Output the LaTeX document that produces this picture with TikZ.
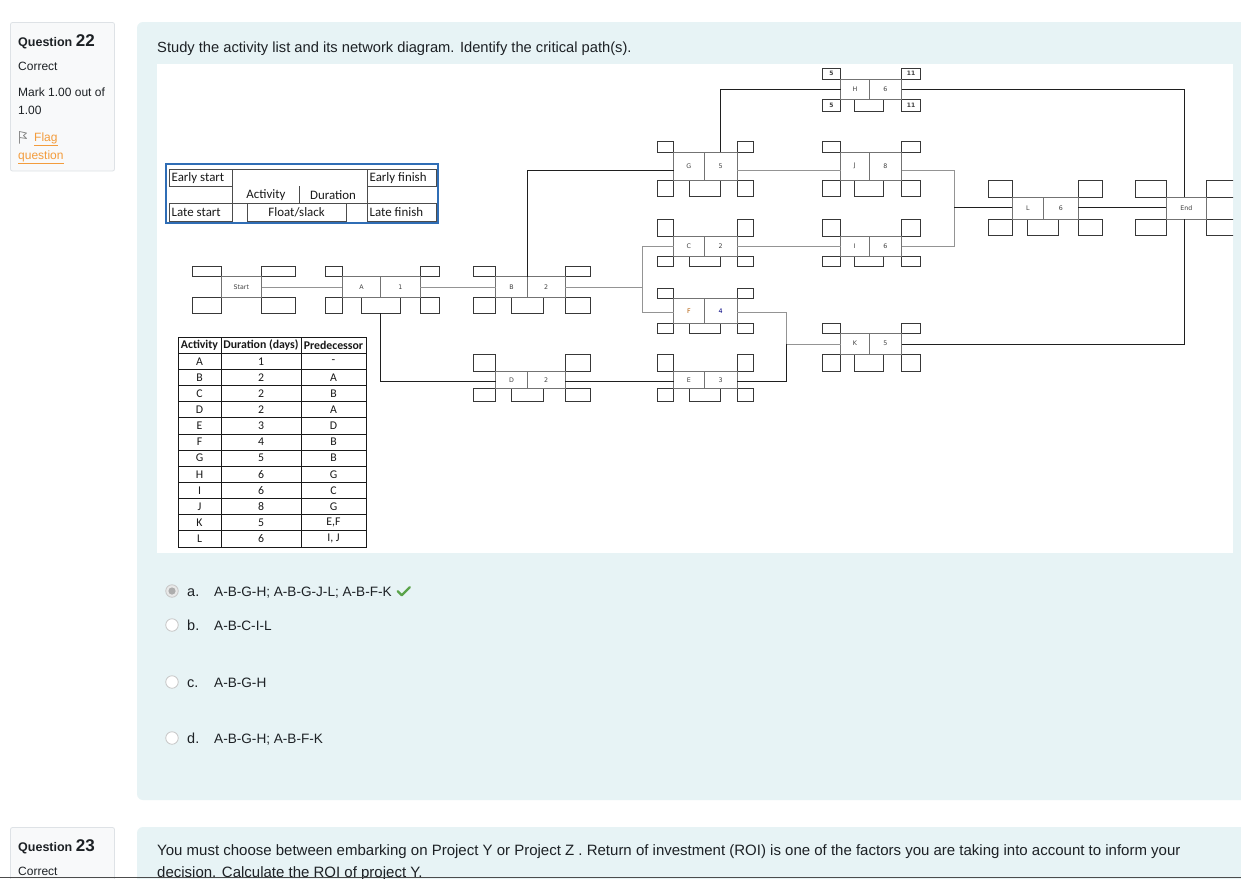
\documentclass[tikz,border=0pt]{standalone}
\usepackage{fontspec}
\setmainfont{Liberation Sans}
\newfontfamily\calibrifont{Carlito}
\newfontfamily\diagfont{DejaVu Sans}
\usetikzlibrary{fit}

\definecolor{panelblue}{HTML}{E7F3F5}
\definecolor{cardgray}{HTML}{F8F9FA}
\definecolor{cardline}{HTML}{DEE2E6}
\definecolor{bodytext}{HTML}{1D2125}
\definecolor{linkorange}{HTML}{F39C3C}
\definecolor{legendblue}{HTML}{2F6DB5}
\definecolor{okgreen}{HTML}{5AA34A}

\newcommand{\setfs}[1]{\fontsize{#1}{#1}\selectfont}

% split "x1/x2/.../x7" column specs and "y1/.../y4" row specs
\def\splitcol#1/#2/#3/#4/#5/#6/#7\relax{\def\cxa{#1}\def\cxb{#2}\def\cxc{#3}\def\cxd{#4}\def\cxe{#5}\def\cxf{#6}\def\cxg{#7}}
\def\splitrow#1/#2/#3/#4\relax{\def\cya{#1}\def\cyb{#2}\def\cyc{#3}\def\cyd{#4}}

% column x positions: box left, body left, divider, float box left, float box right, body right, box right
\def\colA{325.7/342.3/380.7/361.7/400/420/439.3}
\def\colB{473.3/495.7/527.3/511.7/543.3/565/590.7}
\def\colG{657/673.5/704.3/689.3/720/737/753.3}
\def\colH{822.5/840.5/869.3/854.5/883.3/901.5/920}
\def\colL{988.7/1012.3/1043.3/1027.3/1058.3/1078.3/1102.7}
% row y positions: box top, body top, body bottom, box bottom
\def\rowH{68.3/79/99/111.7}
\def\rowG{141.7/152/180/196.7}
\def\rowL{180/197.3/219.3/235}
\def\rowC{219.3/236/256.7/266.7}
\def\rowA{266.7/276.7/297.3/313.3}
\def\rowF{288.3/298.3/323.3/333.3}
\def\rowK{323.3/333.3/354/371.7}
\def\rowD{354.3/371.7/388.3/401.7}

% activity node: #1 name, #2 columns, #3 rows, #4 activity, #5 duration, #6 y of the in/out wires
\newcommand{\netnode}[6]{%
  \expandafter\splitcol#2\relax
  \expandafter\splitrow#3\relax
  \draw[cellbox] (\cxa,\cya) rectangle (\cxb,\cyb);
  \draw[cellbox] (\cxf,\cya) rectangle (\cxg,\cyb);
  \draw[cellbox] (\cxa,\cyc) rectangle (\cxb,\cyd);
  \draw[cellbox] (\cxf,\cyc) rectangle (\cxg,\cyd);
  \draw[cellbox] (\cxd,\cyc) rectangle (\cxe,\cyd);
  \node[fit={(\cxb,\cyb) (\cxc,\cyc)}, cellbody] (#1) {};
  \node[fit={(\cxc,\cyb) (\cxf,\cyc)}, cellbody] (#1-d) {};
  \node[nodetxt] (#1-t) at (#1.center) {#4};
  \node[nodetxt] (#1-v) at (#1-d.center) {#5};
  \coordinate (#1-in) at (\cxb,#6);
  \coordinate (#1-out) at (\cxf,#6);
  \coordinate (#1-n) at (\cxc,\cyb);
  \coordinate (#1-ne) at (\cxe,\cyb);
  \coordinate (#1-s) at (\cxc,\cyd);
}
% start / end node: #1 name, #2 "x1/x2/x3/x4", #3 rows, #4 text
\def\splitterm#1/#2/#3/#4\relax{\def\cxa{#1}\def\cxb{#2}\def\cxf{#3}\def\cxg{#4}}
\newcommand{\termnode}[4]{%
  \splitterm#2\relax
  \expandafter\splitrow#3\relax
  \draw[cellbox] (\cxa,\cya) rectangle (\cxb,\cyb);
  \draw[cellbox] (\cxf,\cya) rectangle (\cxg,\cyb);
  \draw[cellbox] (\cxa,\cyc) rectangle (\cxb,\cyd);
  \draw[cellbox] (\cxf,\cyc) rectangle (\cxg,\cyd);
  \node[fit={(\cxb,\cyb) (\cxf,\cyc)}, cellbody] (#1) {};
  \node[nodetxt] (#1-t) at (#1.center) {#4};
}

\begin{document}
\begin{tikzpicture}[x=1pt,y=-1pt,
  cellbox/.style={draw=black!78, line width=0.8pt},
  cellbody/.style={draw=black!55, line width=0.8pt, inner sep=0pt},
  nodetxt/.style={font=\diagfont\setfs{6.3}, text=black!75, inner sep=0pt},
  wire/.style={draw=black!88, line width=0.9pt},
  wiregray/.style={draw=black!42, line width=0.9pt},
  legbox/.style={draw=black!70, line width=0.7pt},
  legtxt/.style={font=\calibrifont\setfs{12.9}, text=black!90, inner sep=0pt},
  tabline/.style={draw=black!90, line width=0.7pt},
  tabtxt/.style={font=\calibrifont\setfs{11.8}, text=black!90, inner sep=0pt},
  txt/.style={text=bodytext, inner sep=0pt, anchor=base west},
  radio/.style={circle, draw=black!22, fill=white, line width=0.8pt, minimum size=12.5pt, inner sep=0pt}
]
\useasboundingbox (0,0) rectangle (1241,878);
\clip (0,0) rectangle (1241,878);
\fill[white] (0,0) rectangle (1241,878);

% ---------- question 22 ----------
\draw[fill=cardgray, draw=cardline, line width=0.8pt, rounded corners=2pt] (10.5,22.5) rectangle (114.5,171);
\node[txt] (q22) at (18,46.5) {\setfs{12.5}\bfseries Question \setfs{17}22};
\node[txt, font=\setfs{12}] (q22state) at (18,70) {Correct};
\node[txt, font=\setfs{12}] (q22mark) at (18,96.5) {Mark 1.00 out of};
\node[txt, font=\setfs{12}] (q22max) at (18,114.5) {1.00};
\draw[black!45, line width=0.8pt, line join=round] (19.5,143.5) -- (19.5,131.5) -- (26.5,133) -- (23.5,135.5) -- (26.5,138.5) -- (19.5,137.5);
\node[txt, font=\setfs{12}, text=linkorange] (flag1) at (34,141.5) {\underline{Flag}};
\node[txt, font=\setfs{12}, text=linkorange] (flag2) at (18,159) {\underline{question}};

\fill[panelblue, rounded corners=6pt] (137,22) rectangle (1270,800);
\node[txt, font=\setfs{14.7}] (stem) at (157,52.5) {Study the activity list and its network diagram. Identify the critical path(s).};
\fill[white] (157,64) rectangle (1233,553);

% ---------- network diagram ----------
\begin{scope}
\clip (157,64) rectangle (1233,553);

% legend
\draw[legendblue, line width=2pt] (165.7,164.3) rectangle (438.3,223.3);
\draw[legbox] (169.3,169) rectangle (232.3,186);
\draw[legbox] (367.3,169) rectangle (436,186);
\draw[legbox] (232.3,169) rectangle (367.3,203.3);
\draw[legbox] (299.3,186) -- (299.3,203.3);
\draw[legbox] (169.3,203.3) rectangle (232.3,221);
\draw[legbox] (247.3,203.3) rectangle (346,221);
\draw[legbox] (367.3,203.3) rectangle (436,221);
\node[legtxt, anchor=west] (les) at (171.5,177.8) {Early start};
\node[legtxt, anchor=west] (lef) at (369.5,177.8) {Early finish};
\node[legtxt] (lact) at (266,195) {Activity};
\node[legtxt] (ldur) at (333,195) {Duration};
\node[legtxt, anchor=west] (lls) at (171.5,212.3) {Late start};
\node[legtxt] (lfs) at (296.6,212.3) {Float/slack};
\node[legtxt, anchor=west] (llf) at (369.5,212.3) {Late finish};

% activity table
\draw[tabline] (178,337) rectangle (366,547);
\foreach \k in {1,...,12} \draw[tabline] (178,{337+\k*16.15}) -- (366,{337+\k*16.15});
\draw[tabline] (221,337) -- (221,547);
\draw[tabline] (301,337) -- (301,547);
\node[tabtxt, font=\calibrifont\bfseries\setfs{11.8}] (h1) at (199.5,345.1) {Activity};
\node[tabtxt, font=\calibrifont\bfseries\setfs{11.8}] (h2) at (261,345.1) {Duration (days)};
\node[tabtxt, font=\calibrifont\bfseries\setfs{11.8}] (h3) at (333.5,345.1) {Predecessor};
\foreach \i/\a/\d/\p in {1/A/1/-,2/B/2/A,3/C/2/B,4/D/2/A,5/E/3/D,6/F/4/B,7/G/5/B,8/H/6/G,9/I/6/C,10/J/8/G,11/K/5/{E,F},12/L/6/{I, J}}{
  \node[tabtxt] (ta\i) at (199.5,{337+(\i+0.5)*16.15}) {\a};
  \node[tabtxt] (td\i) at (261,{337+(\i+0.5)*16.15}) {\d};
  \node[tabtxt] (tp\i) at (333.5,{337+(\i+0.5)*16.15}) {\p};
}

% nodes
\termnode{start}{192.3/221/261.7/295.7}{\rowA}{Start}
\coordinate (start-out) at (261.7,287.5);
\netnode{A}{\colA}{\rowA}{A}{1}{287.5}
\netnode{B}{\colB}{\rowA}{B}{2}{287.5}
\netnode{D}{\colB}{\rowD}{D}{2}{381}
\netnode{G}{\colG}{\rowG}{G}{5}{170}
\netnode{C}{\colG}{\rowC}{C}{2}{246.5}
\netnode{F}{\colG}{\rowF}{\textcolor{orange!70!black}{F}}{\textcolor{blue!50!black}{4}}{312.7}
\netnode{E}{\colG}{\rowD}{E}{3}{381}
\netnode{H}{\colH}{\rowH}{H}{6}{89.3}
\netnode{J}{\colH}{\rowG}{J}{8}{170}
\netnode{I}{\colH}{\rowC}{I}{6}{246.5}
\netnode{K}{\colH}{\rowK}{K}{5}{344}
\netnode{L}{\colL}{\rowL}{L}{6}{207.3}
\termnode{end}{1135.7/1166/1206.7/1240}{\rowL}{End}
\coordinate (end-in) at (1166,207.3);
\coordinate (end-n) at (1184.3,197.3);
\coordinate (end-s) at (1184.3,219.3);

% times of activity H
\node[nodetxt, font=\diagfont\bfseries\setfs{6}] (hes) at (831.5,73.8) {5};
\node[nodetxt, font=\diagfont\bfseries\setfs{6}] (hef) at (911,73.8) {11};
\node[nodetxt, font=\diagfont\bfseries\setfs{6}] (hls) at (831.5,105.5) {5};
\node[nodetxt, font=\diagfont\bfseries\setfs{6}] (hlf) at (911,105.5) {11};

% junctions
\coordinate (jbcf) at (642.5,287.5);
\coordinate (jefk) at (786.7,344);
\coordinate (jijl) at (954.3,207.3);

% connectors
\draw[wiregray] (start-out) -- (A-in);
\draw[wiregray] (A-out) -- (B-in);
\draw[wire] (A-s) |- (D-in);
\draw[wire] (B-n) |- (G-in);
\draw[wiregray] (B-out) -- (jbcf);
\draw[wiregray] (jbcf) |- (C-in);
\draw[wiregray] (jbcf) |- (F-in);
\draw[wire] (D-out) -- (E-in);
\draw[wire] (E-out) -| (jefk);
\draw[wiregray] (F-out) -| (jefk);
\draw[wiregray] (jefk) -- (K-in);
\draw[wire] (G-ne) |- (H-in);
\draw[wiregray] (G-out) -- (J-in);
\draw[wiregray] (C-out) -- (I-in);
\draw[wiregray] (J-out) -| (jijl);
\draw[wiregray] (I-out) -| (jijl);
\draw[wire] (jijl) -- (L-in);
\draw[wire] (L-out) -- (end-in);
\draw[wire] (H-out) -| (end-n);
\draw[wire] (K-out) -| (end-s);
\end{scope}

% ---------- answer options ----------
\node[radio, fill=black!9] (ra) at (172,591) {};
\fill[black!32] (ra.center) circle (3.6);
\node[radio] (rb) at (172,625) {};
\node[radio] (rc) at (172,682) {};
\node[radio] (rd) at (172,738) {};
\node[txt, font=\setfs{14.5}] (la) at (187,596.3) {a.};
\node[txt, font=\setfs{13.6}] (ta) at (214,596.3) {A-B-G-H; A-B-G-J-L; A-B-F-K};
\draw[okgreen, line width=2.3pt, line cap=round, line join=round] (397.8,591.3) -- (401.8,595.3) -- (409.8,587.3);
\node[txt, font=\setfs{14.5}] (lb) at (187,630.3) {b.};
\node[txt, font=\setfs{13.6}] (tb) at (214,630.3) {A-B-C-I-L};
\node[txt, font=\setfs{14.5}] (lc) at (187,687.3) {c.};
\node[txt, font=\setfs{13.6}] (tc) at (214,687.3) {A-B-G-H};
\node[txt, font=\setfs{14.5}] (ld) at (187,743.3) {d.};
\node[txt, font=\setfs{13.6}] (td) at (214,743.3) {A-B-G-H; A-B-F-K};

% ---------- question 23 ----------
\draw[fill=cardgray, draw=cardline, line width=0.8pt, rounded corners=2pt] (10.5,827.5) rectangle (114.5,900);
\node[txt] (q23) at (18,851) {\setfs{12.5}\bfseries Question \setfs{17}23};
\node[txt, font=\setfs{12}] (q23state) at (18,875) {Correct};
\fill[panelblue, rounded corners=6pt] (137,827) rectangle (1270,900);
\node[txt, font=\setfs{15}] (q23a) at (157,855) {You must choose between embarking on Project Y or Project Z . Return of investment (ROI) is one of the factors you are taking into account to inform your};
\node[txt, font=\setfs{15}] (q23b) at (157,877.5) {decision. Calculate the ROI of project Y.};
\fill[black!70] (0,876.6) rectangle (1241,878);
\end{tikzpicture}
\end{document}
